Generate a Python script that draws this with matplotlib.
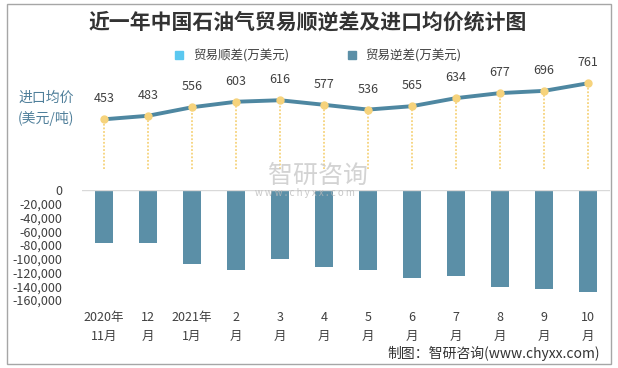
import matplotlib
matplotlib.use("Agg")
import matplotlib.pyplot as plt
from matplotlib.patches import Rectangle
from matplotlib.lines import Line2D

plt.rcParams['font.family'] = ['Noto Sans CJK SC', 'DejaVu Sans']

# data
months = ["2020年\n11月", "12\n月", "2021年\n1月", "2\n月", "3\n月", "4\n月",
          "5\n月", "6\n月", "7\n月", "8\n月", "9\n月", "10\n月"]
deficit = [-76600, -76600, -107200, -115900, -99900, -112000,
           -115900, -127500, -124600, -140600, -143500, -147900]
surplus = [0] * 12
price = [453, 483, 556, 603, 616, 577, 536, 565, 634, 677, 696, 761]

W, H = 618, 368
fig = plt.figure(figsize=(W / 100, H / 100), dpi=100)

bar_c = "#5B8FA7"
line_c = "#4E87A1"
gold = "#F6D37C"
txt_c = "#404040"
x = range(len(months))

# bars (trade deficit)
axb = fig.add_axes([82 / W, (H - 300) / H, 528 / W, 110 / H])
axb.bar(x, deficit, width=0.4, color=bar_c)
axb.bar(x, surplus, width=0.4, color="#5BC8F0")
axb.set_xlim(-0.5, 11.5)
axb.set_ylim(-160000, 0)
axb.set_yticks(range(-160000, 1, 20000))
axb.set_yticklabels([f"{v:,}" for v in range(-160000, 1, 20000)])
axb.set_xticks(list(x))
axb.set_xticklabels(months, linespacing=1.6)
axb.tick_params(length=0, labelsize=9, colors=txt_c)
axb.tick_params(axis='y', pad=14)
axb.tick_params(axis='x', pad=8)
for s in axb.spines.values():
    s.set_visible(False)
axb.axhline(0, color="#D9D9D9", lw=1)

# line (import price)
axl = fig.add_axes([82 / W, (H - 169) / H, 528 / W, 109 / H])
axl.set_xlim(-0.5, 11.5)
axl.set_ylim(28, 960)
axl.vlines(list(x), 28, price, colors=gold, linestyles=(0, (1, 1)), lw=1.3)
axl.plot(list(x), price, color=line_c, lw=2.8, zorder=3)
axl.plot(list(x), price, 'o', color=gold, ms=5, zorder=4)
for i, p in enumerate(price):
    axl.annotate(str(p), (i, p), xytext=(0, 10), textcoords="offset points",
                 ha="center", va="bottom", fontsize=9, color=txt_c)
axl.axis("off")

# title, legend, labels
fig.text(308 / W, (H - 22) / H, "近一年中国石油气贸易顺逆差及进口均价统计图",
         ha="center", va="center", fontsize=15, fontweight="bold", color="#333333")
handles = [Line2D([], [], marker='s', ls='none', color="#5BC8F0", ms=6),
           Line2D([], [], marker='s', ls='none', color=bar_c, ms=6)]
fig.legend(handles, ["贸易顺差(万美元)", "贸易逆差(万美元)"], loc="center",
           bbox_to_anchor=(314 / W, (H - 56) / H), ncol=2, frameon=False,
           fontsize=9, handletextpad=0.1, columnspacing=4, labelcolor=txt_c)
fig.text(18 / W, (H - 108) / H, "进口均价\n(美元/吨)", ha="left", va="center",
         fontsize=10, color="#4F7F9A", linespacing=1.5)

# watermark
fig.text(318 / W, (H - 176) / H, "智研咨询", ha="center", va="center",
         fontsize=18, color="#C8C8C8", alpha=0.8)
fig.text(305 / W, (H - 193) / H, "w w w . c h y x x . c o m", ha="center",
         va="center", fontsize=7, color="#BBBBBB", alpha=0.8)

fig.text(600 / W, (H - 353) / H, "制图：智研咨询(www.chyxx.com)", ha="right",
         va="center", fontsize=10, color="#333333")

fig.patches.append(Rectangle((7 / W, 4 / H), 604 / W, 360 / H, fill=False,
                             edgecolor="#A6A6A6", lw=1, transform=fig.transFigure))

fig.savefig("out.png", dpi=100)
